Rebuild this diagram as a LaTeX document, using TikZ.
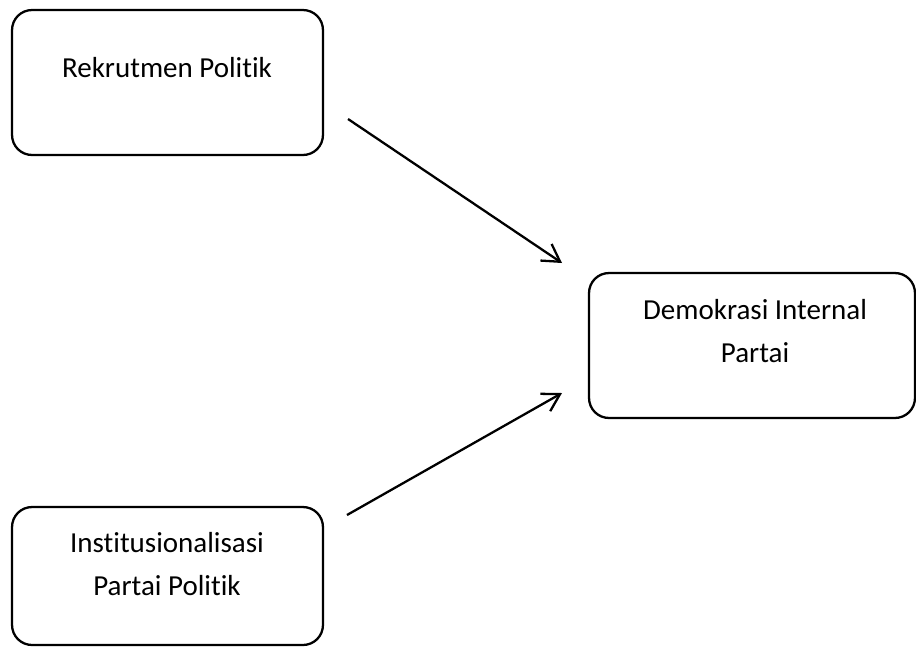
\documentclass[tikz,border=0pt]{standalone}
\usepackage{fontspec}
\setmainfont{Carlito}[Ligatures=NoCommon]
\usetikzlibrary{arrows.meta}

\begin{document}
\begin{tikzpicture}[x=0.02cm, y=-0.02cm,
box/.style = {draw, line width=1.3pt,
              rounded corners=0.4cm,
              minimum width=6.22cm,
              minimum height=2.9cm},
box text/.style = {align=center, inner sep=0pt,
                   font=\fontsize{16.5}{24}\selectfont},
link/.style = {line width=1.3pt,
               -{Straight Barb[length=3.4mm, width=4mm]}}
                   ]
\useasboundingbox (0,0) rectangle (916,647);
% boxes
\node[box] (rekrutmen) at (167.5,82.5) {};
\node[box, minimum height=2.76cm] (institusi) at (167.5,576) {};
\node[box, minimum width=6.52cm] (demokrasi) at (752,345.5) {};
% texts
\node[box text, anchor=base] (rekrutmen text) at (167,77) {Rekrutmen Politik};
\node[box text] (institusi text) at (167,564) {Institusionalisasi\\ Partai Politik};
\node[box text] (demokrasi text) at (755,331) {Demokrasi Internal\\ Partai};
% arrows
\coordinate (a1) at (348,119);
\coordinate (b1) at (562,263);
\coordinate (a2) at (347,515);
\coordinate (b2) at (562,393);
\draw[link] (a1) -- (b1);
\draw[link] (a2) -- (b2);
\end{tikzpicture}
\end{document}
